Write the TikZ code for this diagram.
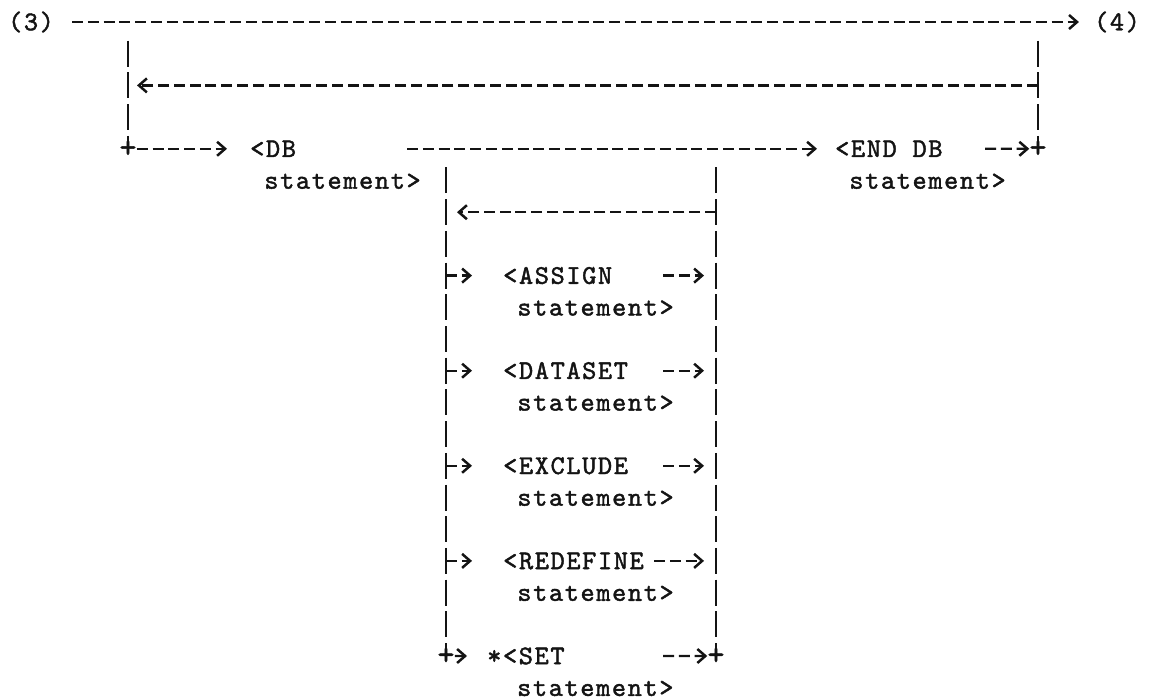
\documentclass[tikz,border=0pt]{standalone}
\usepackage{fontspec}
\usetikzlibrary{arrows.meta}
\newfontfamily\typefont[LetterSpace=6,FakeBold=1.6]{lmmono10-regular.otf}
\newcommand{\typewr}{\typefont\fontsize{27}{31.7}\selectfont}
\definecolor{ink}{HTML}{141414}

\begin{document}
\begin{tikzpicture}[
  x=1pt, y=-1pt,
  flow/.style={ink, line width=2.3pt, dash pattern=on 11pt off 4.8pt,
    -{Straight Barb[length=8pt, width=14pt, line width=2.5pt]}},
  bar/.style={ink, line width=2.2pt, dash pattern=on 26pt off 5.7pt},
  stmt/.style={anchor=base west, align=left, inner sep=0pt, font=\typewr, text=ink},
  junc/.style={inner sep=0pt, font=\typewr, text=ink},
  cross/.style={junc, scale=1.2}
]
  \useasboundingbox (0,0) rectangle (1155,700);

  % main line
  \node[junc] (p3) at (31,22) {(3)};
  \node[junc] (p4) at (1117,22) {(4)};
  \draw[flow, shorten <=18pt, shorten >=15pt] (p3) -- (p4);

  % outer loop
  \coordinate (topl) at (128,22);
  \coordinate (topr) at (1038,22);
  \node[cross] (jtl) at (128,148.8) {+};
  \node[cross] (jtr) at (1038,148.8) {+};
  \draw[bar, shorten <=18.7pt] (topl) -- (jtl.center);
  \draw[bar, shorten <=18.7pt] (topr) -- (jtr.center);
  \coordinate (backr) at (1038,85.4);
  \coordinate (backl) at (128,85.4);
  \draw[flow, shorten >=9pt] (backr) -- (backl);

  \node[stmt] (db) at (250,188.7) {<DB\\\phantom{<}statement>};
  \node[stmt] (enddb) at (835,188.7) {<END DB\\\phantom{<}statement>};
  \coordinate (dbout) at (407,148.8);
  \coordinate (enddbout) at (985,148.8);
  \draw[flow, shorten >=23pt] (jtl) -- (jtl -| db.west);
  \draw[flow, shorten >=18pt] (dbout) -- (dbout -| enddb.west);
  \draw[flow] (enddbout) -- (jtr);

  % inner loop
  \coordinate (boxl) at (446,148.8);
  \coordinate (boxr) at (716,148.8);
  \node[cross] (setl) at (446,656) {+};
  \node[cross] (setr) at (716,656) {+};
  \draw[bar, shorten <=18.7pt] (boxl) -- (setl.center);
  \draw[bar, shorten <=18.7pt] (boxr) -- (setr.center);
  \coordinate (againr) at (716,212.2);
  \coordinate (againl) at (446,212.2);
  \draw[flow, shorten >=11pt] (againr) -- (againl);

  \foreach \nm/\txt/\ry/\rx in {assign/ASSIGN/275.6/663, dataset/DATASET/370.7/663,
      exclude/EXCLUDE/465.8/663, redefine/REDEFINE/560.9/654} {
    \node[stmt] (\nm) at (503,{\ry+39.9}) {<\txt\\\phantom{<}statement>};
    \coordinate (\nm-in) at (446,\ry);
    \coordinate (\nm-out) at (\rx,\ry);
    \coordinate (\nm-end) at (716,\ry);
    \draw[flow, shorten >=31pt] (\nm-in) -- (\nm-in -| \nm.west);
    \draw[flow, shorten >=12pt] (\nm-out) -- (\nm-end);
  }

  \node[stmt] (set) at (487,695.9) {*<SET\\\phantom{*<}statement>};
  \coordinate (setout) at (663,656);
  \draw[flow, shorten >=20pt] (setl) -- (setl -| set.west);
  \draw[flow] (setout) -- (setr);
\end{tikzpicture}
\end{document}
